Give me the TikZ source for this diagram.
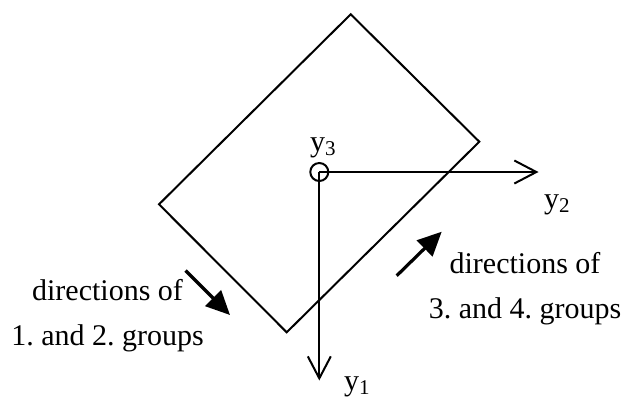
\documentclass[tikz,border=0pt]{standalone}
\usepackage{fontspec}
\setmainfont{Liberation Serif}
\usetikzlibrary{arrows.meta}
\frenchspacing
\begin{document}
\begin{tikzpicture}[x=0.5pt, y=-0.5pt, line width=1pt, inner sep=0pt,
      font=\fontsize{15}{18}\selectfont,
      axis/.style={-{Straight Barb[length=11pt, width=11.5pt]}},
      dirarrow/.style={line width=1.6pt, -{Triangle[length=12pt, width=11pt]}}]
   \useasboundingbox (0,0) rectangle (635,398);
   % tilted plate
   \coordinate (T) at (350.7,14.3);
   \coordinate (R) at (479.3,141.7);
   \coordinate (B) at (286.7,332.3);
   \coordinate (L) at (159,204.3);
   \draw (T) -- (R) -- (B) -- (L) -- cycle;
   % axes
   \coordinate (O) at (319.3,172);
   \coordinate (E2) at (538.5,172);
   \coordinate (E1) at (319.3,380.5);
   \node[circle, draw, minimum size=9pt] (C) at (O) {};
   \draw[axis] (O) -- (E2);
   \draw[axis] (O) -- (E1);
   \node[anchor=base west] (y3) at (309,151.5) {y\textsubscript{3}};
   \node[anchor=base west] (y2) at (543,208) {y\textsubscript{2}};
   \node[anchor=base west] (y1) at (343,390) {y\textsubscript{1}};
   % group directions
   \coordinate (A1) at (185.5,270.5);
   \coordinate (A2) at (230,315);
   \coordinate (A3) at (396.7,275.7);
   \coordinate (A4) at (441.7,231.7);
   \draw[dirarrow] (A1) -- (A2);
   \draw[dirarrow] (A3) -- (A4);
   \node[anchor=base] (dl1) at (107.5,300) {directions of};
   \node[anchor=base] (dl2) at (107.5,345) {1. and 2. groups};
   \node[anchor=base] (dr1) at (525,273) {directions of};
   \node[anchor=base] (dr2) at (525,318) {3. and 4. groups};
\end{tikzpicture}
\end{document}
